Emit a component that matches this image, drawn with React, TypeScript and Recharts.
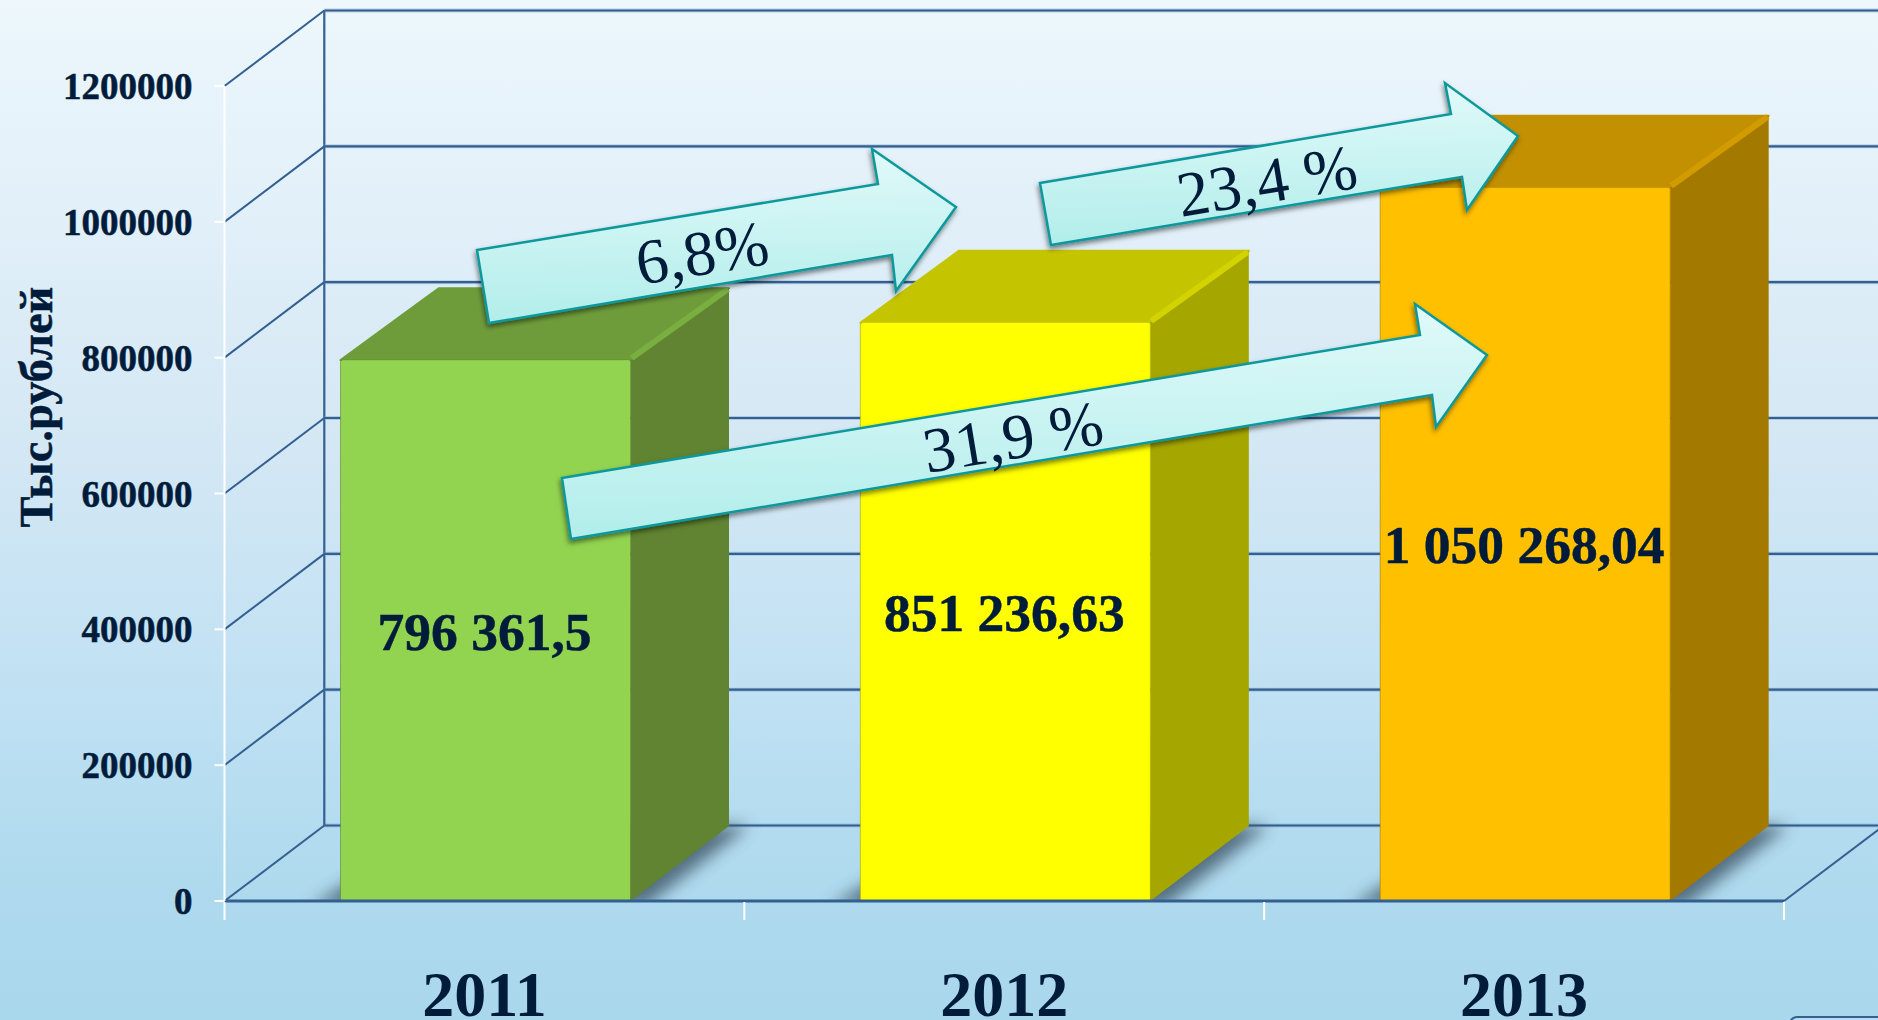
import React from "react";
import { BarChart, Bar, XAxis, YAxis, CartesianGrid, LabelList, Customized, ZIndexLayer } from "recharts";

const years = ["2011", "2012", "2013"];
const amounts = [796361.5, 851236.63, 1050268.04];
const amountLabels = ["796 361,5", "851 236,63", "1 050 268,04"];
const yTicks = [0, 200000, 400000, 600000, 800000, 1000000, 1200000];
const axisTitle = "Тыс.рублей";

const frontColors = ["#92D350", "#FFFF00", "#FFC000"];
const sideColors = ["#608431", "#A6A600", "#A47900"];
const topColors = ["#6F9C3B", "#C4C400", "#C29000"];
const bevelColors = ["#79AE41", "#D3D300", "#D29C00"];

const arrowLabels = ["6,8%", "23,4 %", "31,9 %"];
const arrowLabelPos = [
  [702, 253],
  [1267, 181],
  [1013, 437],
];
const arrowShapes = [
  [[477, 250], [878, 184], [872, 149], [956, 207], [896, 291], [892, 255], [489, 323]],
  [[1040, 183], [1451, 114], [1445, 83], [1518, 136], [1467, 210], [1462, 177], [1051, 245]],
  [[562, 478], [1420, 335], [1415, 304], [1487, 355], [1436, 427], [1432, 395], [571, 539]],
];

const W = 1878;
const H = 1020;
const LEFT = 224.5;
const RIGHT = 1784;
const TOP = 86;
const BASE = 901;
const DEPTH_X = 99.8;
const DEPTH_Y = 75.5;
const BAR_DX = 98.5;
const BAR_TOP_DY = 72;
const BAR_BASE_DY = 75;
const BAND = (RIGHT - LEFT) / years.length;
const NAVY = "#011C3A";
const SERIF = "'Liberation Serif', 'Times New Roman', serif";
const LINE = "#335F91";

const table = years.map((year, i) => ({ year, amount: amounts[i], label: amountLabels[i] }));

const pts = (a: number[][]) => a.map((p) => p.join(",")).join(" ");

function GridLine(props: any) {
  const y = props.y1;
  const isBase = Math.abs(y - BASE) < 1;
  const wy = y - DEPTH_Y;
  return (
    <g>
      <line x1={LEFT + DEPTH_X} y1={wy} x2={W} y2={wy} stroke="#7FA6CC" strokeWidth={4} opacity={0.45} />
      <line x1={LEFT + DEPTH_X} y1={wy} x2={W} y2={wy} stroke={LINE} strokeWidth={2.2} />
      <line x1={LEFT} y1={y} x2={LEFT + DEPTH_X} y2={wy} stroke={LINE} strokeWidth={2} />
      {isBase && (
        <>
          <line x1={RIGHT} y1={BASE} x2={RIGHT + DEPTH_X} y2={wy} stroke={LINE} strokeWidth={2} />
          <line x1={LEFT + DEPTH_X} y1={TOP - DEPTH_Y} x2={LEFT + DEPTH_X} y2={wy} stroke={LINE} strokeWidth={2.2} />
        </>
      )}
    </g>
  );
}

function BoxBar(props: any) {
  const { y, height, index } = props;
  const x = props.x + 2;
  const width = props.width - 2;
  const r = x + width;
  const b = y + height;
  const cid = `floor-${index}`;
  return (
    <g>
      <clipPath id={cid}>
        <rect x={x - 60} y={b - BAR_BASE_DY - 40} width={width + BAR_DX + 120} height={BAR_BASE_DY + 39} />
      </clipPath>
      <g clipPath={`url(#${cid})`}>
        <polygon
          points={pts([
            [x - 30, b + 6],
            [r + 14, b + 6],
            [r + BAR_DX + 20, b - BAR_BASE_DY],
            [x + BAR_DX, b - BAR_BASE_DY],
          ])}
          fill="#3D5566"
          opacity={0.8}
          filter="url(#floorBlur)"
        />
      </g>
      <polygon
        points={pts([
          [x, y],
          [x + BAR_DX, y - BAR_TOP_DY],
          [r + BAR_DX, y - BAR_TOP_DY],
          [r, y],
        ])}
        fill={topColors[index]}
        stroke={topColors[index]}
        strokeWidth={2}
        strokeLinejoin="round"
      />
      <polygon
        points={pts([
          [r, y],
          [r + BAR_DX, y - BAR_TOP_DY],
          [r + BAR_DX, b - BAR_BASE_DY],
          [r, b],
        ])}
        fill={sideColors[index]}
      />
      <line x1={r + 1} y1={y - 2} x2={r + BAR_DX - 1} y2={y - BAR_TOP_DY + 1} stroke={bevelColors[index]} strokeWidth={6} />
      <rect x={x} y={y} width={width} height={height} rx={2} fill={frontColors[index]} stroke={sideColors[index]} strokeWidth={1} strokeOpacity={0.6} />
      <line x1={x + 2} y1={y + 1.5} x2={r - 1} y2={y + 1.5} stroke={frontColors[index]} strokeWidth={3} />
    </g>
  );
}

function YearTick(props: any) {
  const { x, payload, index } = props;
  return (
    <g>
      <line x1={x - BAND / 2} y1={BASE + 1} x2={x - BAND / 2} y2={BASE + 19} stroke="#FFFFFF" strokeWidth={2} />
      {index === years.length - 1 && (
        <line x1={x + BAND / 2} y1={BASE + 1} x2={x + BAND / 2} y2={BASE + 19} stroke="#FFFFFF" strokeWidth={2} />
      )}
      <text x={x} y={BASE + 115} textAnchor="middle" fontFamily={SERIF} fontWeight={700} fontSize={64} fill={NAVY}>
        {payload.value}
      </text>
    </g>
  );
}

function AxisTitle() {
  const cx = 36;
  const cy = 407;
  return (
    <text
      x={cx}
      y={cy}
      transform={`rotate(-90 ${cx} ${cy})`}
      textAnchor="middle"
      dominantBaseline="central"
      fontFamily={SERIF}
      fontWeight={700}
      fontSize={46.5}
      fill={NAVY}
      stroke={NAVY}
      strokeWidth={0.5}
    >
      {axisTitle}
    </text>
  );
}

function Arrows() {
  return (
    <ZIndexLayer zIndex={5000}>
      <g>
        <defs>
          <linearGradient id="arrowFill" x1="0.47" y1="0" x2="0.53" y2="1">
            <stop offset="0" stopColor="#E2FAFA" />
            <stop offset="1" stopColor="#B0EDEA" />
          </linearGradient>
          <filter id="arrowShadow" x="-5%" y="-20%" width="110%" height="140%">
            <feDropShadow dx="-1" dy="3" stdDeviation="2.5" floodColor="#000000" floodOpacity="0.5" />
          </filter>
        </defs>
        {arrowShapes.map((shape, i) => {
          const [cx, cy] = arrowLabelPos[i];
          return (
            <g key={arrowLabels[i]}>
              <polygon
                points={pts(shape)}
                fill="url(#arrowFill)"
                stroke="#0E989C"
                strokeWidth={2.5}
                strokeLinejoin="miter"
                filter="url(#arrowShadow)"
              />
              <text
                x={cx}
                y={cy}
                transform={`rotate(-9.4 ${cx} ${cy})`}
                textAnchor="middle"
                dominantBaseline="central"
                fontFamily={SERIF}
                fontSize={64}
                fill={NAVY}
              >
                {arrowLabels[i]}
              </text>
            </g>
          );
        })}
        <rect x={1790} y={1017} width={200} height={30} rx={7} fill="#B8DDF0" stroke={LINE} strokeWidth={2} />
      </g>
    </ZIndexLayer>
  );
}

export default function App() {
  return (
    <div
      style={{
        position: "absolute",
        left: 0,
        top: 0,
        width: W,
        height: H,
        overflow: "hidden",
        background:
          "linear-gradient(180deg,#EDF7FC 0%,#E2F0F9 20%,#D3E7F4 45%,#C0E1F3 68%,#B0DAEE 85%,#A9D7EC 100%)",
      }}
    >
      <BarChart
        width={W}
        height={H}
        data={table}
        margin={{ left: LEFT - 100, right: W - RIGHT, top: TOP, bottom: H - BASE - 60 }}
        barSize={292}
      >
        <defs>
          <filter id="floorBlur" x="-20%" y="-60%" width="140%" height="220%">
            <feGaussianBlur stdDeviation="8" />
          </filter>
        </defs>
        <CartesianGrid vertical={false} horizontal={(p: any) => <GridLine key={p.index ?? p.y1} {...p} />} />
        <XAxis
          dataKey="year"
          height={60}
          axisLine={{ stroke: LINE, strokeWidth: 3 }}
          tickLine={false}
          tick={<YearTick />}
          interval={0}
        />
        <YAxis
          width={100}
          domain={[0, 1200000]}
          ticks={yTicks}
          interval={0}
          axisLine={{ stroke: "#FFFFFF", strokeWidth: 2 }}
          tickLine={{ stroke: "#FFFFFF", strokeWidth: 2 }}
          tickSize={10}
          tickMargin={22}
          tick={{ fontFamily: SERIF, fontWeight: 700, fontSize: 37, fill: NAVY, stroke: NAVY, strokeWidth: 0.5 }}
        />
        <Bar dataKey="amount" shape={<BoxBar />} isAnimationActive={false}>
          <LabelList
            dataKey="label"
            position="center"
            style={{ fontFamily: SERIF, fontWeight: 700, fontSize: 53.5, fill: NAVY, stroke: NAVY, strokeWidth: 0.5 }}
          />
        </Bar>
        <Customized component={AxisTitle} />
        <Customized component={Arrows} />
      </BarChart>
    </div>
  );
}
